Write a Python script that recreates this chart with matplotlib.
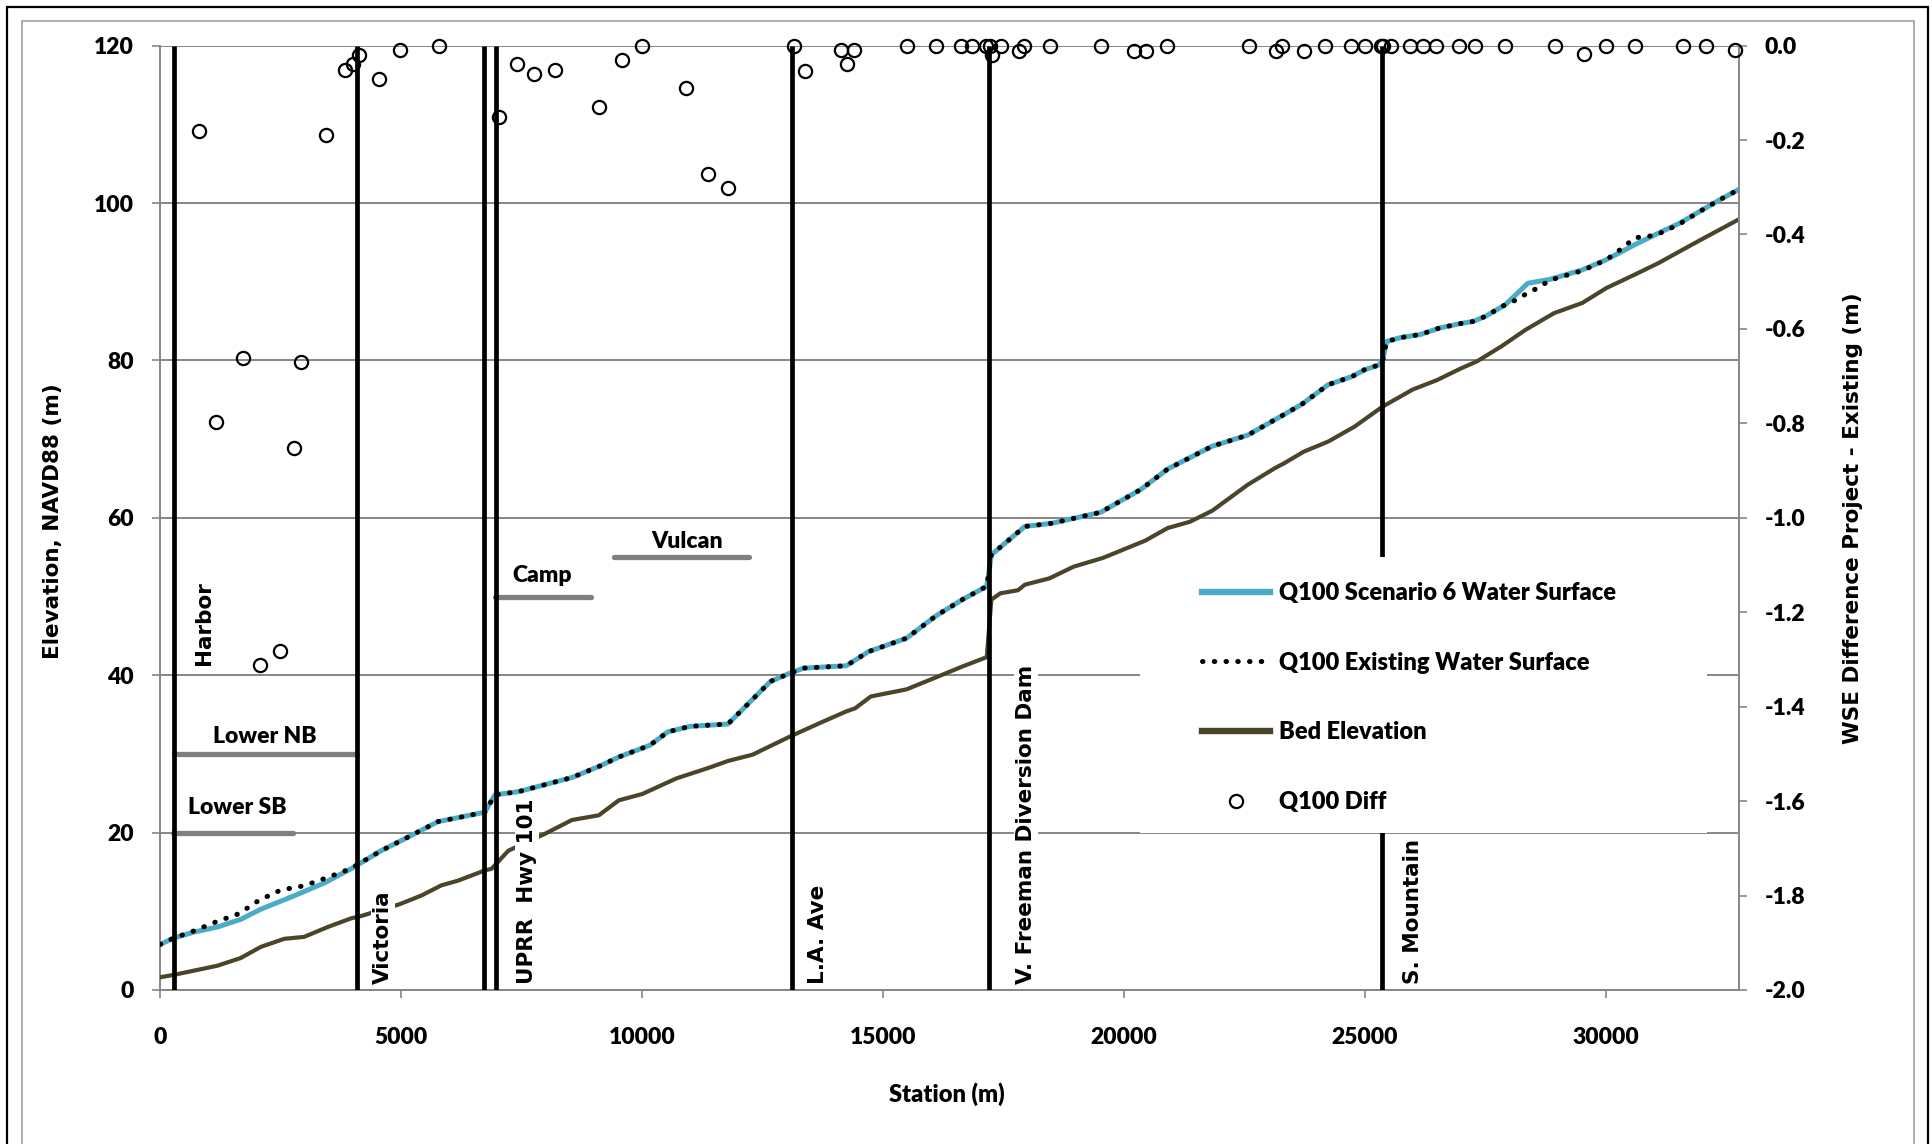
import matplotlib
matplotlib.use('Agg')
import matplotlib.pyplot as plt
from matplotlib.lines import Line2D
from matplotlib.patches import Rectangle

plt.rcParams['font.family'] = ['Lato', 'DejaVu Sans']
plt.rcParams['font.weight'] = 'heavy'

# Q100 water surface, project (Scenario 6) - station (m), elevation NAVD88 (m)
ws_station = [0, 278, 694, 1181, 1667, 2083, 2778, 3403, 3958, 4583, 5069, 5764, 6181,
              6736, 6944, 7430, 8542, 9100, 9514, 10160, 10531, 10994, 11780, 12660, 13065,
              13355, 14235, 14698, 15485, 16087, 16643, 17151, 17245, 17940, 18496, 19515,
              20347, 20905, 21830, 22566, 23313, 23682, 24232, 24734, 24985, 25278, 25363,
              25446, 25739, 26156, 26535, 26996, 27247, 27498, 27917, 28378, 28838, 29508,
              30010, 30597, 31100, 31519, 31938, 32357, 32750]
ws_elev = [5.8, 6.6, 7.35, 8.0, 8.97, 10.26, 11.97, 13.6, 15.4, 17.7, 19.2, 21.4, 21.9,
           22.6, 24.8, 25.2, 27.0, 28.4, 29.6, 31.1, 32.8, 33.5, 33.8, 39.2, 40.25,
           40.9, 41.2, 43.0, 44.7, 47.5, 49.6, 51.3, 55.3, 58.9, 59.3, 60.7,
           63.6, 66.2, 69.1, 70.5, 73.1, 74.4, 76.9, 77.96, 78.8, 79.4, 79.9,
           82.4, 82.9, 83.3, 84.1, 84.7, 84.95, 85.6, 87.1, 89.8, 90.3, 91.5,
           92.8, 94.7, 96.2, 97.4, 98.9, 100.4, 101.7]

# Q100 water surface, existing conditions
ex_station = [0, 278, 694, 1146, 1632, 2049, 2500, 2986, 3472, 3944, 4583, 5069, 5764, 6181,
              6736, 6944, 7430, 8542, 9100, 9514, 10160, 10531, 10994, 11780, 12660, 13065,
              13355, 14235, 14698, 15485, 16087, 16643, 17151, 17245, 17940, 18496, 19515,
              20347, 20905, 21830, 22566, 23313, 23682, 24232, 24734, 24985, 25278, 25363,
              25446, 25739, 26156, 26535, 26996, 27247, 27498, 27917, 28180, 28378, 28587,
              28838, 29508, 30010, 30389, 30597, 30849, 31100, 31519, 31938, 32357, 32750]
ex_elev = [5.8, 6.6, 7.5, 8.63, 9.7, 11.4, 12.7, 13.25, 14.3, 15.4, 17.7, 19.2, 21.4, 21.9,
           22.6, 24.8, 25.2, 27.0, 28.4, 29.6, 31.1, 32.8, 33.5, 33.8, 39.2, 40.25,
           40.9, 41.2, 43.0, 44.7, 47.5, 49.6, 51.3, 55.3, 58.9, 59.3, 60.7,
           63.6, 66.2, 69.1, 70.5, 73.1, 74.4, 76.9, 77.96, 78.8, 79.4, 79.9,
           82.4, 82.9, 83.3, 84.1, 84.7, 84.95, 85.6, 87.1, 87.8, 88.6, 89.2,
           90.2, 91.4, 92.8, 94.5, 95.6, 95.7, 96.1, 97.3, 98.9, 100.4, 101.7]

# channel bed
bed_station = [0, 278, 1181, 1667, 2083, 2569, 2986, 3472, 3958, 4167, 4965, 5417, 5833,
               6181, 6736, 6875, 7222, 7986, 8542, 9100, 9514, 10000, 10716, 11366, 11780,
               12290, 12660, 13065, 13678, 14235, 14421, 14745, 15485, 16087, 16643, 17151,
               17245, 17430, 17800, 17940, 18448, 18957, 19560, 20440, 20905, 21368, 21830,
               22566, 23127, 23313, 23728, 24240, 24786, 25357, 25990, 26494, 26996, 27330,
               27834, 28335, 28921, 29508, 30010, 30597, 31100, 31602, 32021, 32750]
bed_elev = [1.62, 1.92, 3.08, 4.06, 5.47, 6.5, 6.75, 8.0, 9.1, 9.4, 10.9, 12.0, 13.3,
            13.9, 15.2, 15.4, 17.7, 19.86, 21.6, 22.2, 24.1, 24.9, 26.9, 28.2, 29.1,
            29.9, 31.0, 32.2, 33.9, 35.4, 35.8, 37.3, 38.2, 39.7, 41.1, 42.3,
            49.6, 50.4, 50.8, 51.5, 52.3, 53.8, 54.9, 57.1, 58.7, 59.5, 60.9,
            64.2, 66.3, 66.9, 68.4, 69.7, 71.6, 74.1, 76.3, 77.5, 79.0, 79.9,
            81.8, 83.9, 86.0, 87.3, 89.2, 90.9, 92.4, 94.1, 95.5, 97.9]

# WSE difference, project minus existing (m)
diff_station = [796, 1166, 1722, 2075, 2474, 2769, 2925, 3444, 3824, 3991, 4131, 4529, 4973,
                5778, 7029, 7400, 7751, 8187, 9104, 9577, 9994, 10919, 11363, 11780, 13142,
                13374, 14122, 14240, 14398, 15498, 16087, 16612, 16834, 17131, 17214, 17269,
                17456, 17822, 17926, 18459, 19531, 20208, 20450, 20900, 22587, 23147, 23278,
                23728, 24164, 24717, 24993, 25325, 25373, 25548, 25928, 26204, 26467, 26944,
                27290, 27913, 28950, 29544, 30008, 30610, 31598, 32083, 32685]
diff_value = [-0.18, -0.797, -0.661, -1.312, -1.282, -0.853, -0.671, -0.19, -0.052, -0.038,
              -0.02, -0.071, -0.009, 0.0, -0.151, -0.039, -0.06, -0.052, -0.129, -0.03, 0.0,
              -0.089, -0.271, -0.301, 0.0, -0.053, -0.009, -0.039, -0.009, 0.0, 0.0, 0.0,
              0.0, 0.0, 0.0, -0.02, 0.0, -0.011, 0.0, 0.0, 0.0, -0.011, -0.011, 0.0, 0.0,
              -0.011, 0.0, -0.011, 0.0, 0.0, 0.0, 0.0, 0.0, 0.0, 0.0, 0.0, 0.0, 0.0, 0.0,
              0.0, 0.0, -0.018, 0.0, 0.0, 0.0, 0.0, -0.009]

# bridges / structures
struct_station = [284, 4075, 6722, 6965, 13106, 17199, 25357]
struct_names = ['Harbor', 'Victoria', 'UPRR  Hwy 101', 'L.A. Ave',
                'V. Freeman Diversion Dam', 'S. Mountain']

# reaches
reach_names = ['Lower NB', 'Lower SB', 'Camp', 'Vulcan']
reach_start = [287, 270, 6955, 9409]
reach_end = [4083, 2760, 8946, 12216]
reach_level = [30, 20, 50, 55]

# label placement (station, elevation)
struct_label_pos = [(907, 41.3), (4620, 0.8), (7610, 0.8), (13656, 0.8), (17962, 0.8), (25988, 0.8)]
reach_label_pos = [(2172, 31.4), (1602, 22.4), (7927, 51.9), (10930, 56.1)]

W, H = 1933, 1144
fig = plt.figure(figsize=(W / 100, H / 100), dpi=100)

# outer frames
fig.patches.append(Rectangle((7 / W, -0.05), 1921 / W, 1 - 7 / H + 0.05, transform=fig.transFigure,
                             fill=False, edgecolor='black', lw=1.6))
fig.patches.append(Rectangle((22 / W, -0.05), 1892.5 / W, 1 - 21 / H + 0.05, transform=fig.transFigure,
                             fill=False, edgecolor='#a0a0a0', lw=1.2))

ax = fig.add_axes([160.3 / W, 1 - 990 / H, (1738.5 - 160.3) / W, (990 - 45.6) / H])
ax.set_xlim(0, 32750)
ax.set_ylim(0, 120)
grey = '#868686'

ax.set_yticks(range(0, 121, 20))
ax.set_xticks(range(0, 30001, 5000))
ax.grid(axis='y', color=grey, lw=1.4, zorder=0.5)
ax.set_axisbelow(True)
for s in ['top', 'right']:
    ax.spines[s].set_visible(False)
for s in ['left', 'bottom']:
    ax.spines[s].set_color(grey)
    ax.spines[s].set_linewidth(1.4)
ax.tick_params(axis='x', direction='out', length=6, width=1.2, color=grey, labelsize=16.5, pad=21)
ax.tick_params(axis='y', direction='out', length=6, width=1.2, color=grey, labelsize=16.5, pad=13)

# reach bars
for name, x0, x1, lev, (lx, ly) in zip(reach_names, reach_start, reach_end, reach_level, reach_label_pos):
    ax.plot([x0, x1], [lev, lev], color='#808080', lw=3.8, solid_capstyle='round', zorder=2)
    ax.text(lx, ly, name, ha='center', va='baseline', fontsize=16.5, zorder=6)

# profiles
ax.plot(ws_station, ws_elev, color='#4BACC6', lw=3.6, zorder=3)
ax.plot(ex_station, ex_elev, color='black', lw=3.6, linestyle=(0, (0.1, 2.25)),
        dash_capstyle='round', zorder=3.5)
ax.plot(bed_station, bed_elev, color='#4A452A', lw=3.0, zorder=3)

# structure lines and labels
ax.vlines(struct_station, 0, 120, color='black', lw=3.4, zorder=4)
for name, (lx, ly) in zip(struct_names, struct_label_pos):
    ax.text(lx, ly, name, rotation=90, ha='center', va='bottom', family='DejaVu Sans',
            weight='bold', fontsize=15.5, zorder=6,
            bbox=dict(facecolor='white', edgecolor='none', pad=1.5))

# secondary axis: WSE difference
ax2 = ax.twinx()
ax2.set_ylim(-2, 0)
ticks2 = [-i / 5 for i in range(11)]
ax2.set_yticks(ticks2)
ax2.set_yticklabels(['0.0'] + ['-%.1f' % (i / 5) for i in range(1, 11)])
for s in ['top', 'left', 'bottom']:
    ax2.spines[s].set_visible(False)
ax2.spines['right'].set_color(grey)
ax2.spines['right'].set_linewidth(1.4)
ax2.tick_params(axis='y', direction='out', length=6, width=1.2, color=grey, labelsize=16.5, pad=13)
ax2.plot(diff_station, diff_value, ls='none', marker='o', mfc='none', mec='black',
         ms=9.5, mew=1.6, clip_on=False, zorder=3)

# legend sits on a white patch that hides the grid behind it
ax2.add_patch(Rectangle((1140 / W, 1 - 833 / H), 567 / W, 276 / H, transform=fig.transFigure,
                        facecolor='white', edgecolor='none', zorder=4))
handles = [Line2D([], [], color='#4BACC6', lw=4.6),
           Line2D([], [], color='black', lw=3.6, linestyle=(0, (0.1, 2.25)), dash_capstyle='round'),
           Line2D([], [], color='#4A452A', lw=4.6),
           Line2D([], [], ls='none', marker='o', mfc='none', mec='black', ms=9.5, mew=1.6)]
labels = ['Q100 Scenario 6 Water Surface', 'Q100 Existing Water Surface',
          'Bed Elevation', 'Q100 Diff']
leg = ax2.legend(handles, labels, loc='upper left', bbox_to_anchor=(1202 / W, 1 - 582 / H),
                 bbox_transform=fig.transFigure, frameon=False, fontsize=17,
                 handlelength=2.9, handletextpad=0.35, labelspacing=2.02,
                 borderpad=0, borderaxespad=0)
leg.set_zorder(5)

# axis titles
fig.text(53 / W, 1 - 521 / H, 'Elevation, NAVD88 (m)', rotation=90, ha='center', va='center',
         family='DejaVu Sans', weight='bold', fontsize=15.5)
fig.text(1853 / W, 1 - 518 / H, 'WSE Difference Project - Existing (m)', rotation=90,
         ha='center', va='center', family='DejaVu Sans', weight='bold', fontsize=15.5)
fig.text(947 / W, 1 - 1094 / H, 'Station (m)', ha='center', va='center', fontsize=17)

fig.savefig('out.png', dpi=100)
